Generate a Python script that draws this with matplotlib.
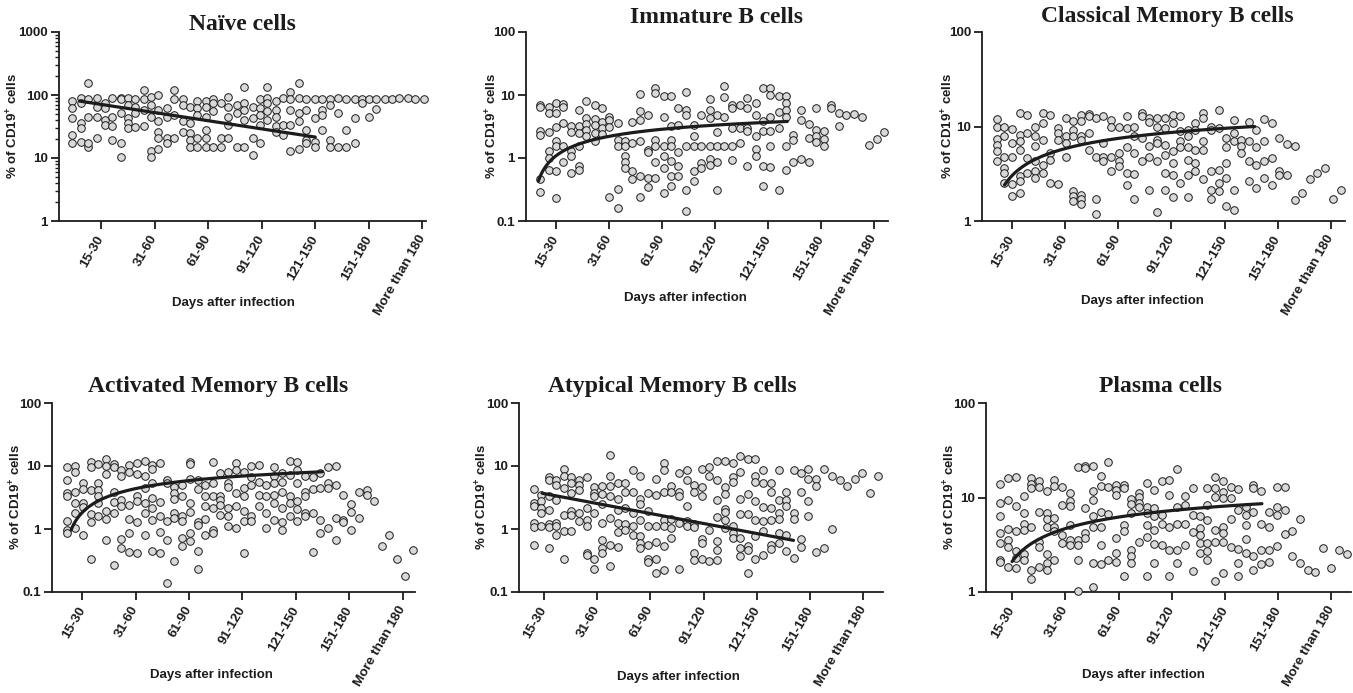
import matplotlib.pyplot as plt
import numpy as np
from matplotlib.ticker import LogLocator, NullFormatter, NullLocator

plt.rcParams['font.family'] = ['Liberation Sans', 'DejaVu Sans']
plt.rcParams['font.weight'] = 'bold'
plt.rcParams['mathtext.fontset'] = 'custom'
plt.rcParams['mathtext.rm'] = 'Liberation Sans'
plt.rcParams['mathtext.bf'] = 'Liberation Sans:bold'

# x tick categories (days after infection)
tick_days = [30, 60, 90, 120, 150, 180, 210]
tick_labels = ["15-30", "31-60", "61-90", "91-120", "121-150", "151-180", "More than 180"]

# --- Naive cells: day column -> values (% of CD19+) ---
naive_days = [14, 19, 23, 28, 32, 36, 41, 45, 49, 54, 58, 62, 67, 71, 76, 80, 84, 89,
              93, 97, 101, 106, 110, 115, 119, 123, 128, 132, 136, 141, 145, 150, 154,
              158, 163, 167, 172, 176, 180, 184, 189, 193, 197, 202, 206, 211]
naive_vals = [[80, 62, 43, 23, 17], [88, 75, 36, 30, 18], [153, 85, 45, 15, 17],
              [90, 65, 45, 21], [75, 62, 40, 34], [90, 45, 32, 19], [90, 85, 51, 17, 10.4],
              [88, 70, 43, 36, 30], [85, 65, 51, 31], [120, 85, 58, 32], [92, 70, 45, 13, 10.4],
              [100, 58, 38, 26, 21, 14], [62, 45, 21, 17], [120, 85, 48, 21], [86, 70, 38, 26],
              [65, 36, 25, 19, 15], [80, 62, 48, 21, 15], [80, 65, 45, 28, 21, 15],
              [86, 75, 55, 15], [75, 21, 15], [92, 65, 45, 34, 21], [70, 51, 15],
              [135, 75, 58, 40, 15], [65, 43, 21, 11], [85, 62, 48, 33, 17],
              [135, 88, 75, 55, 40], [80, 58, 45, 32, 26], [88, 34, 23], [110, 85, 58, 34, 13],
              [153, 88, 51, 38, 14], [86, 58, 28, 19.5, 17], [85, 43, 18, 15], [85, 58, 48, 28],
              [85, 70, 19, 15], [88, 51, 15], [86, 28, 15], [86, 43, 17], [85, 75], [85, 45],
              [85, 60], [85], [85], [88], [88], [85], [85]]

# --- Immature B cells ---
immature_days = [21, 26, 30, 34, 38.5, 43, 47, 52, 56, 60, 65, 69, 73, 77.5, 82, 86, 91,
                 95, 99, 103.5, 108, 112, 117, 121, 125, 129.5, 134, 138, 143, 147, 151,
                 156, 160, 164, 168.5, 173, 177, 181.5, 186, 190, 194, 199, 203, 207.5, 212, 216]
immature_vals = [[6.95, 6.5, 2.64, 2.34, 0.46, 0.29], [6.5, 5.1, 2.55, 1.27, 1.0, 0.65],
                 [7.4, 5.2, 3.1, 1.83, 1.53, 0.615, 0.234], [7.2, 6.5, 3.55, 1.53, 0.85],
                 [3.2, 2.55, 1.27, 1.06, 0.58], [5.8, 3.25, 2.5, 1.53, 0.76, 0.65],
                 [8.1, 4.3, 3.5, 2.8, 2.2], [6.95, 4.15, 3.36, 2.5, 1.83], [6.3, 3.7, 2.98, 2.42],
                 [4.55, 4.05, 3.15, 0.24], [3.55, 1.95, 1.53, 0.32, 0.162],
                 [1.83, 1.53, 1.06, 0.86, 0.695], [3.7, 1.72, 0.615, 0.46],
                 [10.4, 5.6, 4.05, 1.83, 0.51, 0.24], [4.8, 1.35, 1.23, 0.48, 0.35],
                 [12.7, 10.6, 1.95, 1.53, 0.86, 0.48], [9.8, 4.45, 1.53, 1.06, 0.695, 0.28],
                 [9.7, 3.25, 1.95, 1.53, 0.91, 0.51, 0.365], [6.15, 3.36, 1.23, 0.74, 0.525],
                 [11, 5.8, 4.8, 1.53, 0.31, 0.144], [3.36, 2.25, 1.53, 0.615, 0.43],
                 [4.8, 1.53, 0.83, 0.695], [8.7, 5.8, 4.3, 1.53, 0.96, 0.785],
                 [4.8, 2.55, 1.53, 0.85, 0.31], [13.9, 9.4, 4.55, 1.53],
                 [6.95, 6.15, 2.98, 1.53, 0.92], [6.95, 2.98, 1.72], [8.9, 6.15, 2.98, 2.64, 0.74],
                 [7.6, 4.8, 2.2, 1.4, 1.06], [13.1, 3.8, 2.72, 0.74, 0.365],
                 [12.7, 10, 4.55, 2.72, 1.53, 0.72], [9.7, 5.45, 2.98, 0.31],
                 [9.7, 7.6, 5.8, 4.55, 1.53, 0.65], [2.34, 1.95, 0.86], [5.8, 4.05, 0.95],
                 [3.5, 2.07, 0.86], [6.15, 2.8, 2.2, 1.78], [2.64, 2.0, 1.53], [6.95, 6.15],
                 [5.1, 3.25], [4.8], [5.0], [4.55], [1.62], [2.0], [2.55]]

# --- Classical Memory B cells ---
classical_days = [21.5, 25.7, 30, 34.3, 38.5, 43, 47.3, 51.6, 55.7, 60.2, 64.4, 68.9, 73.2,
                  77.5, 81.6, 86, 90.2, 94.7, 99, 103.4, 107.5, 111.6, 116.3, 120.6, 124.8,
                  129.1, 133.4, 138, 142.1, 146.6, 150.7, 155.2, 159.5, 163.8, 168, 172.5,
                  176.6, 180.8, 185.3, 189.6, 193.9, 198.1, 202.4, 206.9, 211.2, 215.5]
classical_vals = [[11.9, 9.8, 7.3, 6.4, 5.5, 4.3], [10, 8, 4.8, 3.6, 3.23, 2.53],
                  [9.4, 6.7, 4.8, 2.48, 1.83], [13.8, 8.1, 7, 5.6, 2.98, 2.65, 1.99],
                  [13.3, 8.5, 4.6, 3.23], [10, 7.85, 6.15, 4.3, 3.35, 2.85],
                  [13.8, 11, 7.24, 3.95, 3.23], [13.3, 5.24, 4.46, 2.53], [9.6, 8.5, 7.24, 2.48],
                  [12.2, 7.85, 6.7, 4.8], [11.3, 9.1, 7.85, 2.08, 1.83, 1.62],
                  [13.3, 11.3, 7.85, 7.24, 1.9, 1.69, 1.52], [13.5, 12.8, 8.6, 5.68],
                  [12.2, 4.8, 1.72, 1.18], [12.8, 6.7, 4.8, 4.3], [11.6, 10, 4.8, 3.35],
                  [10, 5.24, 4.3, 3.8], [13, 9.6, 6, 3.23, 2.43], [10, 7.85, 5.24, 3.15, 1.73],
                  [13.8, 12.8, 7.5, 4.3], [12.2, 11.1, 6.15, 4.8, 2.15],
                  [12.2, 10, 7.24, 6.7, 4.3, 1.24], [12.2, 9.6, 6.4, 5.0, 3.23, 2.15],
                  [13.3, 11, 5.5, 4.1, 3.1, 1.79], [13, 8.9, 7, 6, 2.53],
                  [9.2, 7.85, 6, 4.46, 3.05, 1.8], [11, 9.2, 5.68, 4.1, 3.35],
                  [13.8, 12.2, 7, 5.68, 2.75], [10, 9.2, 3.35, 2.15, 1.72],
                  [14.9, 9.6, 3.5, 2.53, 2.08], [7.5, 6, 4.1, 2.85, 1.44],
                  [11.6, 8.5, 7, 2.12, 1.3], [7.24, 6.15, 5.24], [11.1, 7, 4.3, 2.65],
                  [9.2, 6, 3.95, 2.22], [11.9, 7, 4.3, 2.82], [11, 4.6, 2.43], [7.5, 3.35, 3.1],
                  [6.6, 3.05], [6.15, 1.66], [1.99], [2.75], [3.23], [3.6], [1.72], [2.12]]

# --- Activated Memory B cells ---
activated_days = [21.6, 26.1, 30.2, 34.7, 38.8, 43.3, 47.8, 51.9, 56.2, 60.5, 65, 69.3, 73.6,
                  77.7, 81.8, 86.1, 90.4, 94.9, 99.2, 103.3, 107.6, 111.9, 116.2, 120.7,
                  124.8, 129.1, 133.4, 137.9, 142.2, 146.6, 150.7, 155, 159.5, 163.8, 167.9,
                  172.4, 176.8, 181.3, 185.6, 189.9, 194.1, 198.4, 202.5, 206.9, 211.4, 215.6]
activated_vals = [[9.5, 6, 3.7, 3.3, 1.32, 0.98, 0.86], [10, 8.1, 3.9, 2.55, 1.79, 1.04],
                  [5.45, 4.3, 2.55, 2.2, 0.81], [11.7, 9.8, 4.2, 1.75, 1.27, 0.33],
                  [10.8, 5.45, 4.2, 3.3, 2.55, 1.58], [12.7, 10, 7.5, 1.9, 1.44, 0.68],
                  [10.8, 9.8, 3.9, 2.64, 1.79, 0.266], [8.7, 6.95, 2.9, 2.28, 0.7, 0.5],
                  [10.4, 8.1, 2.42, 1.44, 0.86, 0.43], [11.3, 7.5, 3.3, 2.75, 1.27, 0.42],
                  [12.2, 6.95, 4.45, 2.55, 1.79, 0.81], [10.4, 9.1, 5.3, 3.1, 2.15, 1.4, 0.44],
                  [11.3, 2.64, 1.58, 0.885, 0.42], [6, 5.45, 1.32, 0.68, 0.14],
                  [4.7, 3.7, 2.98, 1.79, 1.5, 0.31], [5, 3.3, 1.58, 1.32, 0.72, 0.53],
                  [11.7, 10.8, 6.3, 2.55, 1.83, 0.86, 0.64], [6, 4.3, 1.27, 1.17, 0.44, 0.23],
                  [5, 3.3, 2.28, 1.44, 0.81], [11.7, 5.3, 3.3, 2.15, 0.98, 0.86],
                  [7.7, 3.3, 2.9, 2.42, 1.68], [8.1, 5.3, 4.7, 2.15, 1.58, 1.13],
                  [11.3, 8.7, 3.7, 2.34, 1.04], [8.1, 4.45, 3.3, 1.9, 1.32, 0.42],
                  [10, 6.6, 5, 1.58, 1.32], [10.4, 5.6, 3.45, 2.34], [5, 3.3, 1.79, 1.04],
                  [9.5, 6.95, 5.3, 3.45, 2.55, 1.37], [7.7, 5.6, 3.9, 2.15, 1.27, 0.95],
                  [12.2, 7.2, 3.3, 2.55, 1.62], [11.7, 8.7, 5.3, 2.75, 2.07, 1.32],
                  [6.95, 3.9, 3.3, 1.79, 1.62], [6.8, 4.3, 1.79, 0.43], [7.85, 4.45, 1.4, 0.86],
                  [9.8, 5.3, 4.45, 1.04], [10, 5, 1.5, 0.68], [3.45, 1.4, 1.27], [2.5, 1.83, 0.95],
                  [3.8, 1.5], [4.2, 3.45], [2.8], [0.53], [0.81], [0.33], [0.18], [0.47]]

# --- Atypical Memory B cells ---
atypical_days = [24.2, 28.5, 32.8, 36.9, 41.2, 45.5, 50, 54.1, 58.5, 62.8, 67.3, 71.6, 75.9,
                 80.1, 84.4, 88.7, 93.2, 97.5, 101.8, 105.9, 110.4, 114.8, 119.1, 123.2, 127.5,
                 131.8, 136.3, 140.6, 144.9, 149.1, 153.6, 157.9, 162.2, 166.3, 170.6, 174.9,
                 179, 183.5, 187.8, 192.2, 196.7, 201, 205.3, 209.4, 213.8, 218.2]
atypical_vals = [[4.3, 2.55, 2.28, 1.24, 1.08, 0.565], [3.45, 2.75, 2.15, 1.79, 1.13],
                 [6.8, 6, 3.3, 2, 1.2, 1.08, 0.5], [5.9, 5, 2.9, 1.24, 1.1, 0.81],
                 [9.1, 7, 4.45, 1.68, 0.92, 0.336], [6.6, 5.3, 3.7, 1.9, 1.64, 0.94],
                 [6, 5, 4.1, 1.79, 1.32], [6.8, 2.15, 1.4, 1.13, 0.42, 0.38],
                 [4.7, 3.7, 3.3, 1.79, 0.336, 0.234], [4.8, 3.6, 2.5, 1.24, 0.68, 0.5, 0.42],
                 [14.8, 7, 4.8, 3.3, 1.5, 0.565, 0.258], [5.45, 2.98, 2, 1.24, 0.885, 0.52],
                 [5.45, 3.9, 2.15, 1.2, 0.98], [8.7, 3.9, 1.79, 1.1, 0.81],
                 [6.95, 2.98, 2.5, 1.37, 0.785, 0.6, 0.5], [3.7, 1.9, 1.1, 0.565, 0.33, 0.298],
                 [6.3, 3.45, 1.1, 0.615, 0.33, 0.2], [11.3, 8.7, 3.8, 1.4, 1.1, 0.545, 0.22],
                 [4.8, 3.9, 1.44, 1.04, 0.72], [7.7, 3.9, 3.36, 1.24, 0.23],
                 [8.7, 5.9, 2.28, 1.32, 1.13], [5, 3.8, 1.2, 1.08, 0.42, 0.32],
                 [9.1, 4.7, 3.36, 0.7, 0.6, 0.336], [9.8, 7, 0.98, 0.305],
                 [12.2, 6, 2.9, 1.55, 0.64, 0.46, 0.32], [12.2, 4.7, 3.6, 2.07, 1.83, 1.37, 1.04],
                 [11.3, 6.8, 5.6, 1.13, 0.86, 0.72], [14.3, 8.1, 2.98, 1.75, 0.72, 0.5, 0.37],
                 [12.7, 3.6, 1.75, 0.53, 0.46, 0.2], [13.1, 7, 5.6, 2.75, 1.37, 0.785, 0.33],
                 [8.7, 5.45, 2.2, 1.32, 0.92, 0.39], [5.3, 3.9, 2.15, 1.4, 0.565, 0.48],
                 [8.7, 2.9, 1.79, 1.44, 0.86, 0.6], [3.8, 2.9, 2.28, 0.81, 0.44],
                 [8.7, 1.79, 1.44, 0.345], [7.85, 3.8, 0.7, 0.515], [9.1, 6.15, 2.75, 1.62],
                 [6.3, 4.8, 0.43], [9.1, 0.5], [6.95, 1.0], [6], [4.8], [6.3], [7.85], [3.7], [7]]

# --- Plasma cells ---
plasma_days = [23.4, 27.7, 32.1, 36.6, 40.7, 45.3, 49.4, 53.7, 58.2, 62.6, 66.9, 71.2, 75.4,
               79.9, 84.2, 88.6, 93.1, 97.2, 101.3, 105.8, 110, 114.3, 118.6, 122.8, 127.5,
               131.8, 136, 140.1, 144.6, 148.7, 153.2, 157.5, 161.8, 166, 170.3, 174.8, 179.1,
               183.7, 187.8, 192.1, 196.6, 200.9, 205.2, 209.7, 214.2, 218.5]
plasma_vals = [[13.9, 8.7, 6.3, 4.25, 3.29, 2.2, 2.1], [15.9, 9.3, 4.6, 3.56, 3.03, 1.86],
               [16.6, 8.1, 4.45, 2.7, 2.3, 1.79], [10.4, 6.8, 5.3, 4.5, 2.5, 2.19],
               [15.9, 13.9, 12.5, 4.9, 1.69, 1.37], [14.8, 13, 7.1, 3.4, 3.03, 1.86],
               [11.8, 6.8, 5.9, 4.9, 2.5, 2.05, 1.69], [15.3, 13.2, 6, 4.9, 4.4, 2.19],
               [13, 8.3, 4.0, 3.29], [11.1, 9.1, 8.2, 5.1, 3.56, 3.14],
               [21.1, 3.56, 3.14, 2.2, 1.02], [21.5, 20.4, 7.7, 4.2, 3.7],
               [21.5, 11.6, 9.4, 6.3, 4.9, 2.05, 1.13], [16.8, 13.2, 7.1, 4.9, 3.14, 1.99],
               [23.8, 12.8, 6.7, 2.2], [13.6, 12, 10.7, 3.7, 2.58, 2.1],
               [13.6, 12.5, 5.1, 4.4, 1.46], [9.6, 8.5, 6.8, 2.8, 2.42, 2.05],
               [11.1, 10.2, 8.7, 8, 3.4], [14.1, 8, 6.8, 5.1, 3.86, 1.46],
               [12, 7.7, 6.3, 4.5, 3.24, 2.05], [15.1, 6.6, 5.3, 3.14],
               [15.3, 10.7, 4.9, 2.76, 1.49], [19.8, 8, 5.3, 2.8, 2.05], [10.4, 8.3, 5.3, 3.14],
               [12.5, 6.6, 4.3, 1.65], [6.3, 4.75, 4.0, 3.29, 2.58],
               [12.5, 8.3, 5.8, 3.3, 2.7, 2.19], [16.3, 12.5, 10.2, 4.5, 3.4, 1.32],
               [15.1, 11.4, 9.8, 4.9, 4.2, 3.4, 1.59], [13, 9.8, 5.9, 2.98],
               [12.2, 7.3, 2.85, 2.05, 1.49], [8, 6.6, 5.1, 3.6, 2.58],
               [13.6, 12.5, 7.1, 2.38, 1.69], [11.6, 5.2, 2.76, 1.99], [7.1, 4.9, 2.8, 2.07],
               [12.8, 8, 6.6, 3.08], [13, 7.4, 4.1], [4.4, 2.4], [5.9, 2.05], [1.69], [1.62],
               [2.9], [1.79], [2.76], [2.54]]

# fitted trend: (kind, day start, day end, value start, value end)
naive_fit = ("exp", 18, 150, 80, 21.5)
immature_fit = ("log", 20, 161, 0.43, 3.8)
classical_fit = ("log", 25.7, 167, 2.4, 10)
activated_fit = ("log", 23.8, 165, 0.98, 8.1)
atypical_fit = ("exp", 29, 170.6, 3.7, 0.66)
plasma_fit = ("log", 30, 170.8, 2.1, 8.6)

titles = ["Naïve cells", "Immature B cells", "Classical Memory B cells",
          "Activated Memory B cells", "Atypical Memory B cells", "Plasma cells"]
all_days = [naive_days, immature_days, classical_days, activated_days, atypical_days, plasma_days]
all_vals = [naive_vals, immature_vals, classical_vals, activated_vals, atypical_vals, plasma_vals]
all_fits = [naive_fit, immature_fit, classical_fit, activated_fit, atypical_fit, plasma_fit]
ylims = [(1, 1000), (0.1, 100), (1, 100), (0.1, 100), (0.1, 100), (1, 100)]

# layout in pixels: left, right, top, bottom
W, H = 1353, 693
boxes = [(59, 426, 32, 221), (526, 888, 32, 221), (982, 1345, 32, 221),
         (52, 415, 403, 592), (519, 883, 403, 592), (986, 1351, 403, 592)]
xlims = [(6.5, 212), (13, 218), (13, 218), (13, 217), (16, 221), (15.3, 221)]
title_pos = [(0.5, 0.01), (0.527, 0.048), (0.51, 0.053), (0.457, 0.058), (0.42, 0.058), (0.477, 0.058)]
ylab_x = [-0.104, -0.072, -0.074, -0.077, -0.082, -0.079]
xlab_pos = [(0.476, -0.40), (0.44, -0.375), (0.443, -0.39), (0.44, -0.405), (0.437, -0.42), (0.43, -0.405)]

ink = "#1c1c1c"
fig = plt.figure(figsize=(W / 100, H / 100), dpi=100)

for i in range(6):
    l, r, t, b = boxes[i]
    ax = fig.add_axes([l / W, 1 - b / H, (r - l) / W, (b - t) / H])

    counts = [len(v) for v in all_vals[i]]
    x = np.repeat(all_days[i], counts)
    y = np.concatenate([np.array(v, dtype=float) for v in all_vals[i]])
    ax.scatter(x, y, s=30, facecolor="#d9d9d9", edgecolor=ink, linewidth=0.7, zorder=3,
               clip_on=False)

    kind, x0, x1, y0, y1 = all_fits[i]
    xs = np.linspace(x0, x1, 200)
    if kind == "exp":
        ys = y0 * (y1 / y0) ** ((xs - x0) / (x1 - x0))
    else:
        ys = y0 + (y1 - y0) * np.log(xs / x0) / np.log(x1 / x0)
    ax.plot(xs, ys, color=ink, lw=2.3, zorder=4, solid_capstyle="round")

    ax.set_yscale("log")
    lo, hi = ylims[i]
    ax.set_ylim(lo, hi)
    ax.set_xlim(*xlims[i])
    decades = [10.0 ** k for k in range(int(round(np.log10(lo))), int(round(np.log10(hi))) + 1)]
    ax.set_yticks(decades, [("%g" % d) for d in decades])
    if i == 0:
        # only the first panel shows minor log ticks
        ax.yaxis.set_minor_locator(LogLocator(base=10, subs=np.arange(2, 10)))
    else:
        ax.yaxis.set_minor_locator(NullLocator())
    ax.yaxis.set_minor_formatter(NullFormatter())

    ax.set_xticks(tick_days)
    ax.set_xticklabels(tick_labels, rotation=60, ha="right", va="center",
                       rotation_mode="anchor")

    for side in ["top", "right"]:
        ax.spines[side].set_visible(False)
    for side in ["left", "bottom"]:
        ax.spines[side].set_linewidth(1.3)
        ax.spines[side].set_color(ink)

    ax.tick_params(axis="both", which="major", length=5.5, width=1.3, color=ink,
                   labelsize=9.7, labelcolor=ink)
    ax.tick_params(axis="x", which="major", pad=5.5)
    ax.tick_params(axis="y", which="major", pad=2.5)
    ax.tick_params(axis="y", which="minor", length=3.0, width=1.0, color=ink)
    ax.tick_params(axis="x", which="minor", length=0)

    tx, ty = title_pos[i]
    ax.text(tx, 1 + ty, titles[i], transform=ax.transAxes, ha="center", va="baseline",
            family="Liberation Serif", fontweight="bold", fontsize=17, color=ink)

    ax.set_ylabel(r"% of CD19$^{\mathbf{+}}$ cells", fontsize=9.5, fontweight="bold", color=ink)
    ax.yaxis.set_label_coords(ylab_x[i], 0.5)
    ax.set_xlabel("Days after infection", fontsize=9.5, fontweight="bold", color=ink)
    ax.xaxis.set_label_coords(*xlab_pos[i])

fig.savefig("out.png", dpi=100)
